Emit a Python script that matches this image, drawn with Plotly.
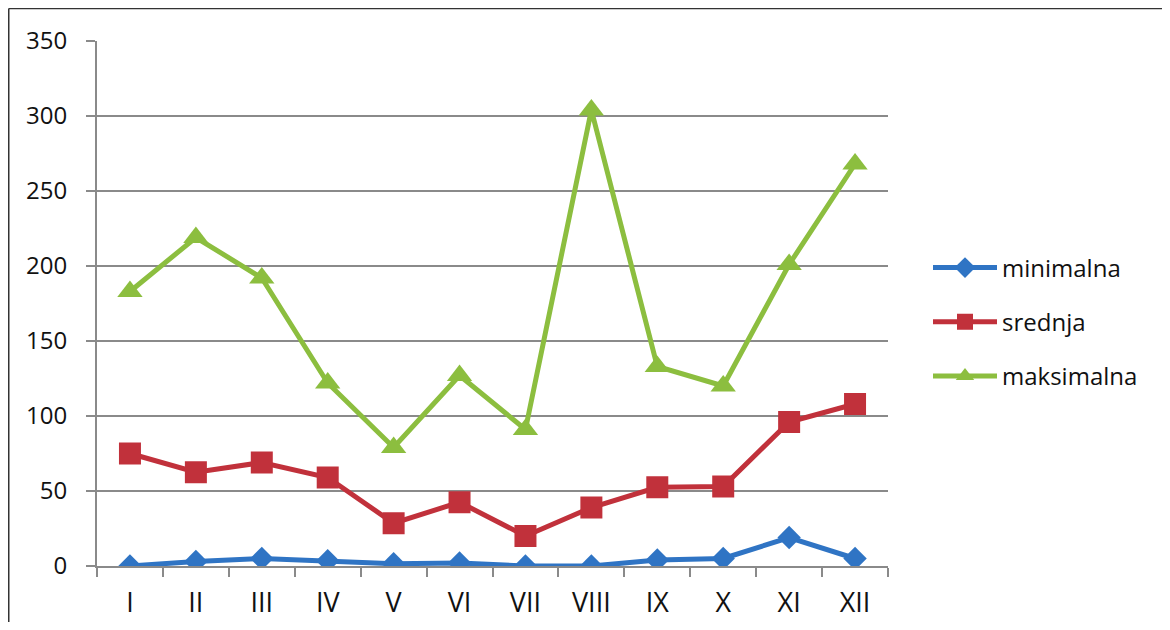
import plotly.graph_objects as go

months = ["I", "II", "III", "IV", "V", "VI", "VII", "VIII", "IX", "X", "XI", "XII"]
minimalna = [0, 3, 5, 3.5, 1.5, 2, 0, 0, 4, 5, 19, 5]
srednja = [75, 62.5, 69, 59, 28.5, 42.5, 20, 39, 52.5, 53, 96, 108]
maksimalna = [183, 219, 192, 122, 79, 127, 91, 304, 133, 120, 201, 268]
y_ticks = [0, 50, 100, 150, 200, 250, 300, 350]

series = [
    ("minimalna", minimalna, "#2F74C4", "diamond", 18),
    ("srednja", srednja, "#C1313B", "square", 22),
    ("maksimalna", maksimalna, "#8CBE3F", "triangle-up", 22),
]

FONT = "'Open Sans', sans-serif"
W, H = 1154, 614
L, R, T, B = 89, 274, 33, 56
PW, PH = W - L - R, H - T - B

fig = go.Figure()
for name, vals, color, sym, size in series:
    fig.add_trace(go.Scatter(
        x=months, y=vals, name=name, mode="lines+markers",
        line=dict(color=color, width=5),
        marker=dict(symbol=sym, size=size, color=color),
        legendgroup=name,
    ))

border = dict(color="#333333", width=1.5)
fig.update_layout(
    width=W, height=H,
    margin=dict(l=L, r=R, t=T, b=B, autoexpand=False),
    paper_bgcolor="white", plot_bgcolor="white",
    font=dict(family=FONT, size=24, color="#111111"),
    showlegend=True,
    legend=dict(
        x=(920 - L) / PW, y=(H - B - 314) / PH, xanchor="left", yanchor="middle",
        font=dict(family=FONT, size=24, color="#111111"),
        itemwidth=64, tracegroupgap=20,
        bgcolor="rgba(0,0,0,0)",
    ),
    xaxis=dict(
        type="category", categoryorder="array", categoryarray=months,
        range=[-0.5, 11.5], automargin=False,
        showgrid=False, showline=True, linecolor="#8a8a8a", linewidth=2,
        ticks="outside", tickson="boundaries", ticklen=9, tickwidth=2, tickcolor="#8a8a8a",
        ticklabelstandoff=12,
        tickfont=dict(family=FONT, size=27, color="#111111"),
        zeroline=False,
    ),
    yaxis=dict(
        range=[0, 350], tickvals=y_ticks, automargin=False,
        showgrid=True, gridcolor="#8a8a8a", gridwidth=2,
        showline=True, linecolor="#8a8a8a", linewidth=2,
        ticks="outside", ticklen=9, tickwidth=2, tickcolor="#8a8a8a",
        ticklabelstandoff=14,
        tickfont=dict(family=FONT, size=24, color="#111111"),
        zeroline=False,
    ),
    shapes=[
        dict(type="line", xref="paper", yref="paper",
             x0=(0.75 - L) / PW, x1=(0.75 - L) / PW,
             y0=-(B + 5) / PH, y1=(H - B - 0.5) / PH, line=border, layer="below"),
        dict(type="line", xref="paper", yref="paper",
             x0=(0.75 - L) / PW, x1=(W + 5 - L) / PW,
             y0=(H - B - 0.5) / PH, y1=(H - B - 0.5) / PH, line=border, layer="below"),
    ],
)

fig.write_html("out.html")
